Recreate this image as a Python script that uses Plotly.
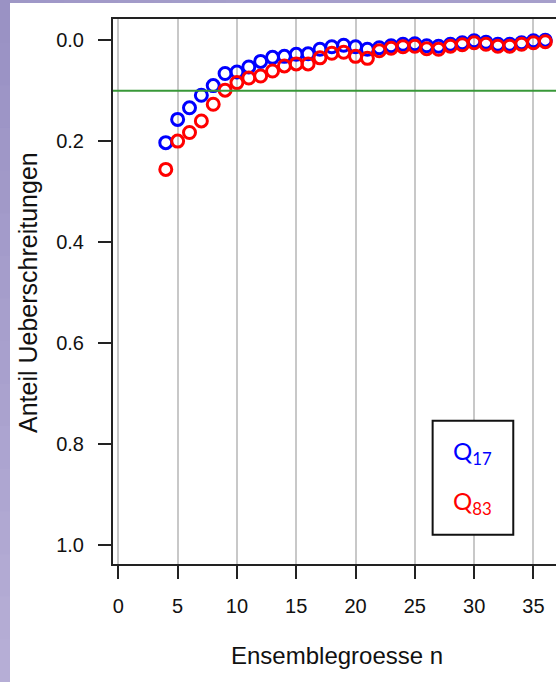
import plotly.graph_objects as go

# Ensemble size and fraction of exceedances for the two quantiles
n_values = list(range(4, 37))
q17 = [0.203, 0.157, 0.134, 0.109, 0.090, 0.066, 0.063, 0.053, 0.042, 0.034,
       0.032, 0.028, 0.027, 0.018, 0.013, 0.010, 0.013, 0.018, 0.015, 0.011,
       0.008, 0.007, 0.011, 0.012, 0.008, 0.005, 0.001, 0.004, 0.008, 0.008,
       0.005, 0.001, 0.000]
q83 = [0.256, 0.200, 0.183, 0.160, 0.127, 0.099, 0.084, 0.075, 0.071, 0.061,
       0.051, 0.047, 0.047, 0.035, 0.026, 0.024, 0.032, 0.036, 0.021, 0.016,
       0.013, 0.012, 0.017, 0.018, 0.012, 0.009, 0.005, 0.008, 0.012, 0.012,
       0.008, 0.005, 0.003]
threshold = 0.1
x_ticks = [0, 5, 10, 15, 20, 25, 30, 35]
y_ticks = [0.0, 0.2, 0.4, 0.6, 0.8, 1.0]
y_ticktext = ["0.0", "0.2", "0.4", "0.6", "0.8", "1.0"]

W, H = 556, 682
ML, MR, MT, MB = 113, 0, 19, 118
PW, PH = W - ML - MR, H - MT - MB


def px_x(p):
    return (p - ML) / PW


def px_y(p):
    return (H - MB - p) / PH


fig = go.Figure()

fig.add_trace(go.Scatter(
    x=n_values, y=q17, mode="markers", name="Q17",
    marker=dict(symbol="circle-open", size=12, color="#0000ff",
                line=dict(width=3, color="#0000ff")),
))
fig.add_trace(go.Scatter(
    x=n_values, y=q83, mode="markers", name="Q83",
    marker=dict(symbol="circle-open", size=12, color="#ff0000",
                line=dict(width=3, color="#ff0000")),
))

shapes = []
# lavender strip down the left edge, lighter toward the bottom
bands = 16
for i in range(bands):
    t = i / (bands - 1)
    r = int(154 + t * 28)
    g = int(146 + t * 28)
    b = int(196 + t * 18)
    y_top = i * H / bands
    shapes.append(dict(type="rect", xref="paper", yref="paper",
                       x0=px_x(0), x1=px_x(10),
                       y0=px_y(y_top + H / bands + 1), y1=px_y(y_top),
                       fillcolor=f"rgb({r},{g},{b})", line=dict(width=0),
                       layer="below"))
# white sheet
shapes.append(dict(type="rect", xref="paper", yref="paper",
                   x0=px_x(10), x1=px_x(W + 20), y0=px_y(H + 20), y1=px_y(3),
                   fillcolor="white", line=dict(width=0), layer="below"))
# soft fade of the strip along the top edge
steps = 12
for i in range(steps):
    a = 0.85 * (1 - i / steps)
    x0 = 10 + i * 18
    shapes.append(dict(type="rect", xref="paper", yref="paper",
                       x0=px_x(x0), x1=px_x(x0 + 18), y0=px_y(3), y1=px_y(0),
                       fillcolor=f"rgba(158,150,198,{a:.2f})",
                       line=dict(width=0), layer="below"))
# reference level
shapes.append(dict(type="line", xref="paper", yref="y",
                   x0=0, x1=1, y0=threshold, y1=threshold,
                   line=dict(color="#389838", width=2), layer="above"))
# key box
shapes.append(dict(type="rect", xref="x", yref="y",
                   x0=26.5, x1=33.3, y0=0.754, y1=0.980,
                   fillcolor="white", line=dict(color="#111111", width=2),
                   layer="above"))

annotations = [
    dict(text="Q<sub>17</sub>", x=29.9, y=0.818, xref="x", yref="y",
         showarrow=False, font=dict(family="Lato", size=24, color="#0000ff")),
    dict(text="Q<sub>83</sub>", x=29.9, y=0.917, xref="x", yref="y",
         showarrow=False, font=dict(family="Lato", size=24, color="#ff0000")),
    dict(text="Anteil Ueberschreitungen", x=px_x(28), y=px_y(293),
         xref="paper", yref="paper", textangle=-90, showarrow=False,
         xanchor="center", yanchor="middle",
         font=dict(family="Liberation Sans", size=25, color="#111111")),
    dict(text="Ensemblegroesse n", x=px_x(337), y=px_y(655),
         xref="paper", yref="paper", showarrow=False,
         xanchor="center", yanchor="middle",
         font=dict(family="Liberation Sans", size=24, color="#111111")),
]

fig.update_layout(
    width=W, height=H,
    margin=dict(l=ML, r=MR, t=MT, b=MB, pad=0),
    paper_bgcolor="#a69fcb",
    plot_bgcolor="white",
    showlegend=False,
    shapes=shapes,
    annotations=annotations,
    font=dict(family="Liberation Sans", size=20, color="#111111"),
)

fig.update_xaxes(
    range=[-0.45, -0.45 + PW / 11.86],
    tickvals=x_ticks, ticks="outside", ticklen=13, tickwidth=2,
    tickcolor="#222222", showgrid=True, gridcolor="#c8c8c8", gridwidth=2,
    zeroline=False, showline=True, linecolor="#222222", linewidth=2,
    mirror=True, tickfont=dict(size=20), ticklabelstandoff=10,
)
fig.update_yaxes(
    range=[1.038, -0.042],
    tickvals=y_ticks, ticktext=y_ticktext, ticks="outside", ticklen=13,
    tickwidth=2, tickcolor="#222222", showgrid=False, zeroline=False,
    showline=True, linecolor="#222222", linewidth=2, mirror=False,
    tickfont=dict(size=20), ticklabelstandoff=10,
)

fig.write_html("out.html")
